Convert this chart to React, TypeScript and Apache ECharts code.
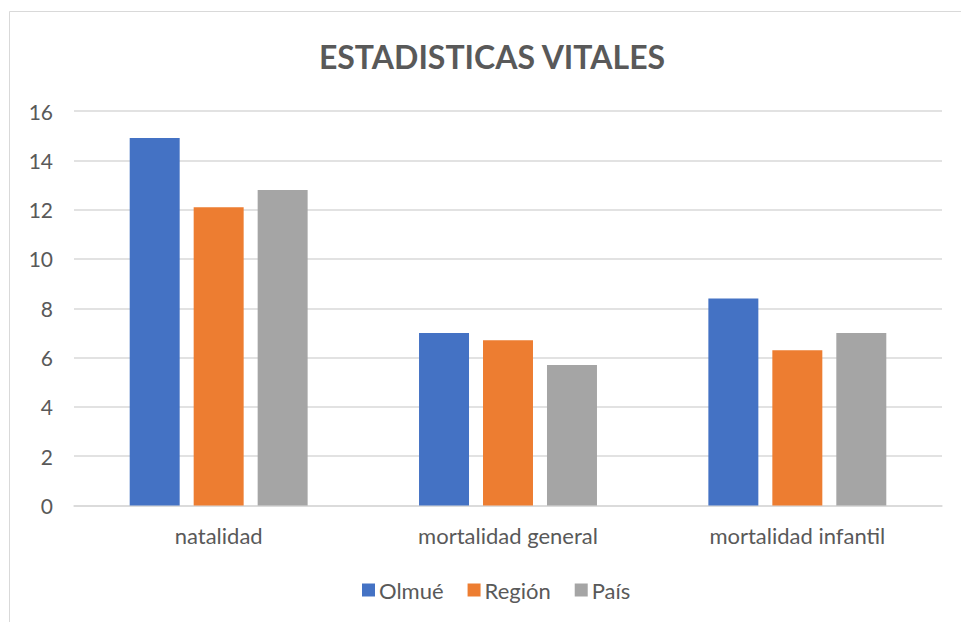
import React, { useEffect, useRef } from "react";
import * as echarts from "echarts";

const categories = ["natalidad", "mortalidad general", "mortalidad infantil"];
const olmue = [14.9, 7.0, 8.4];
const region = [12.1, 6.7, 6.3];
const pais = [12.8, 5.7, 7.0];
const seriesNames = ["Olmué", "Región", "País"];
const colors = ["#4472C4", "#ED7D31", "#A5A5A5"];

const FONT = "Lato, 'Open Sans', sans-serif";

export default function App() {
  const ref = useRef<HTMLDivElement>(null);
  useEffect(() => {
    if (!ref.current) return;
    const chart = echarts.init(ref.current, undefined, { renderer: "svg" });
    const data = [olmue, region, pais];
    chart.setOption({
      animation: false,
      backgroundColor: "#ffffff",
      color: colors,
      title: {
        text: "ESTADISTICAS VITALES",
        left: 487,
        textAlign: "center",
        top: 35,
        textStyle: { fontFamily: FONT, fontSize: 32, fontWeight: "bold", color: "#595959" },
      },
      graphic: [
        {
          type: "rect",
          shape: { x: 9.5, y: 11.5, width: 1000, height: 700 },
          style: { fill: "none", stroke: "#d9d9d9", lineWidth: 1 },
          silent: true,
        },
      ],
      grid: { left: 74, right: 19, top: 111, bottom: 116.5, containLabel: false },
      legend: {
        left: 357,
        top: 574,
        itemWidth: 13,
        itemHeight: 13,
        itemGap: 24,
        icon: "rect",
        textStyle: { fontFamily: FONT, fontSize: 22, color: "#595959", padding: [0, 0, 0, -1] },
        data: seriesNames,
      },
      xAxis: {
        type: "category",
        data: categories,
        axisLine: { lineStyle: { color: "#d9d9d9", width: 1.5 } },
        axisTick: { show: false },
        axisLabel: { fontFamily: FONT, fontSize: 22, color: "#595959", margin: 19 },
      },
      yAxis: {
        type: "value",
        min: 0,
        max: 16,
        interval: 2,
        axisLine: { show: false },
        axisTick: { show: false },
        splitLine: { lineStyle: { color: "#d9d9d9", width: 1.5 } },
        axisLabel: { fontFamily: FONT, fontSize: 21, color: "#595959", margin: 21 },
      },
      series: seriesNames.map((name, i) => ({
        name,
        type: "bar",
        data: data[i],
        barGap: "28%",
        barCategoryGap: "38.5%",
        itemStyle: { color: colors[i] },
      })),
    });
    return () => chart.dispose();
  }, []);
  return (
    <div style={{ position: "fixed", left: 0, top: 0, width: 961, height: 622, background: "#fff" }}>
      <div ref={ref} style={{ width: 961, height: 622 }} />
    </div>
  );
}
